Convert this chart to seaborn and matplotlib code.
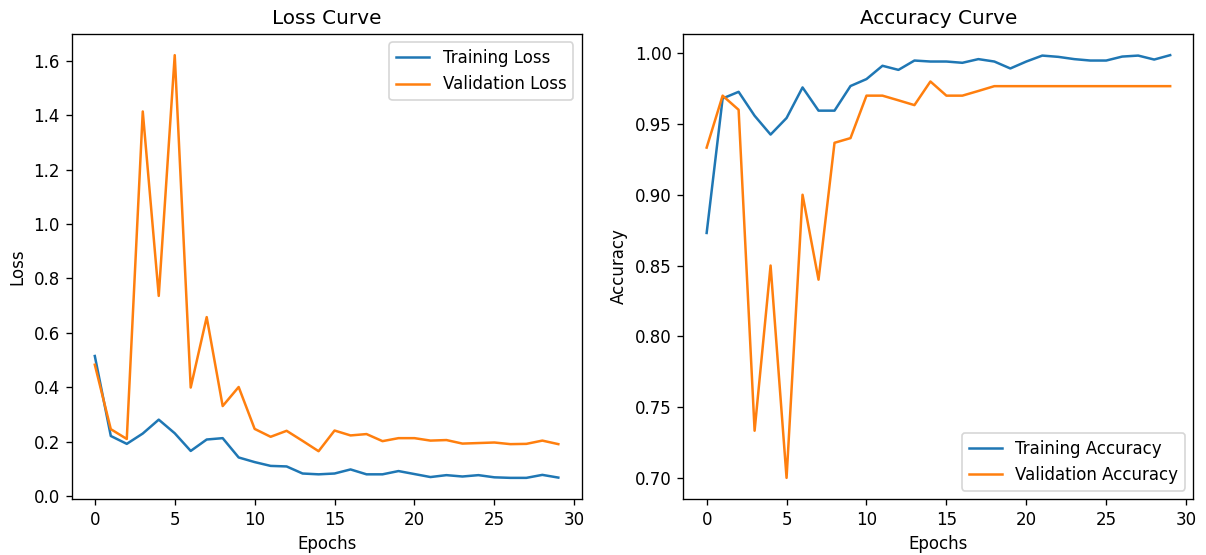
import numpy as np
import pandas as pd
import matplotlib
matplotlib.use("Agg")
import matplotlib.pyplot as plt
import seaborn as sns

epochs = list(range(30))

train_loss = [0.515, 0.221, 0.192, 0.230, 0.281, 0.231, 0.166, 0.208, 0.213, 0.142,
              0.125, 0.111, 0.109, 0.083, 0.080, 0.083, 0.098, 0.080, 0.080, 0.092,
              0.081, 0.070, 0.077, 0.072, 0.077, 0.069, 0.067, 0.067, 0.078, 0.068]
val_loss = [0.483, 0.246, 0.210, 1.414, 0.736, 1.621, 0.399, 0.658, 0.331, 0.401,
            0.247, 0.218, 0.240, 0.203, 0.165, 0.241, 0.223, 0.228, 0.202, 0.213,
            0.213, 0.204, 0.206, 0.193, 0.195, 0.197, 0.191, 0.192, 0.204, 0.191]

train_acc = [0.873, 0.968, 0.9727, 0.9558, 0.9425, 0.9542, 0.9758, 0.9594, 0.9594, 0.9768,
             0.9817, 0.9911, 0.9882, 0.9948, 0.9941, 0.9941, 0.9932, 0.9958, 0.9941, 0.9892,
             0.9941, 0.9983, 0.9974, 0.9958, 0.9948, 0.9948, 0.9976, 0.9983, 0.9955, 0.9986]
val_acc = [0.9333, 0.9700, 0.9600, 0.7333, 0.8500, 0.7000, 0.9000, 0.8400, 0.9367, 0.9400,
           0.9700, 0.9700, 0.9667, 0.9633, 0.9800, 0.9700, 0.9700, 0.9733, 0.9767, 0.9767,
           0.9767, 0.9767, 0.9767, 0.9767, 0.9767, 0.9767, 0.9767, 0.9767, 0.9767, 0.9767]

blue = "#1f77b4"
orange = "#ff7f0e"

fig, (ax1, ax2) = plt.subplots(1, 2, figsize=(10.05, 4.625), dpi=120)
fig.subplots_adjust(left=0.0594, right=0.9895, top=0.9387, bottom=0.1009, wspace=0.2)

sns.lineplot(x=epochs, y=train_loss, ax=ax1, color=blue, label="Training Loss")
sns.lineplot(x=epochs, y=val_loss, ax=ax1, color=orange, label="Validation Loss")
ax1.set_title("Loss Curve")
ax1.set_xlabel("Epochs")
ax1.set_ylabel("Loss")
ax1.legend(loc="upper right")

sns.lineplot(x=epochs, y=train_acc, ax=ax2, color=blue, label="Training Accuracy")
sns.lineplot(x=epochs, y=val_acc, ax=ax2, color=orange, label="Validation Accuracy")
ax2.set_title("Accuracy Curve")
ax2.set_xlabel("Epochs")
ax2.set_ylabel("Accuracy")
ax2.legend(loc="lower right")

for ax in (ax1, ax2):
    ax.set_xticks([0, 5, 10, 15, 20, 25, 30])

fig.savefig("out.png", dpi=120)
